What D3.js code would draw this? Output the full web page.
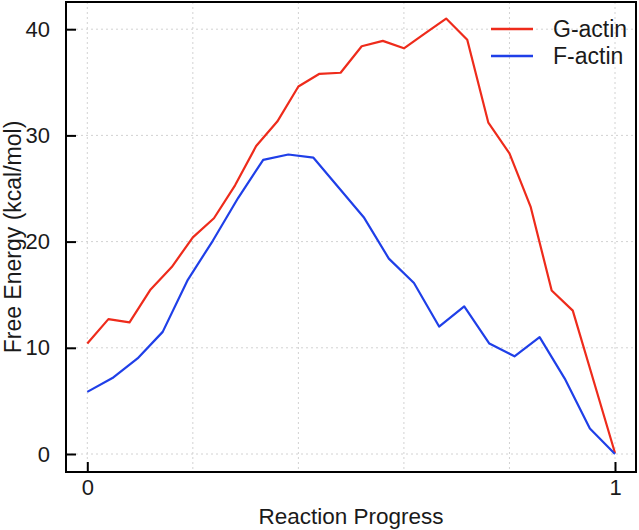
<!DOCTYPE html>
<html>
<head>
<meta charset="utf-8">
<script src="https://cdn.jsdelivr.net/npm/d3@7"></script>
<style>
  html, body { margin: 0; padding: 0; background: #fff; }
  svg { display: block; font-family: "Liberation Sans", Arial, Helvetica, sans-serif; }
</style>
</head>
<body>
<svg id="chart" width="639" height="530"></svg>
<script>
// ---- data ----
const gActin = [10.4, 12.7, 12.4, 15.5, 17.6, 20.4, 22.2, 25.3, 29.0, 31.3, 34.6, 35.8, 35.9,
                38.4, 38.9, 38.2, 39.6, 41.0, 39.0, 31.2, 28.3, 23.3, 15.4, 13.5, 6.8, 0.1];
const fActin = [5.85, 7.15, 9.0, 11.5, 16.4, 20.1, 24.1, 27.7, 28.2, 27.9, 25.1, 22.3, 18.4,
                16.1, 12.0, 13.9, 10.4, 9.2, 11.0, 7.1, 2.4, 0.0];
const seriesNames = ["G-actin", "F-actin"];
const seriesColors = ["#ee2b1b", "#1f3fe8"];
const yTicks = [0, 10, 20, 30, 40];
const xTicks = [0, 1];
const xGrid = [0, 0.2, 0.4, 0.6, 0.8, 1.0];
const xTitle = "Reaction Progress";
const yTitle = "Free Energy (kcal/mol)";

// ---- layout ----
const svg = d3.select("#chart");
const frame = { left: 66, right: 636, top: 2, bottom: 472 };
const x = d3.scaleLinear().domain([0, 1]).range([87.3, 615]);
const y = d3.scaleLinear().domain([0, 40]).range([454, 29.2]);
const textColor = "#1a1a1a";

// gridlines
const grid = svg.append("g").attr("stroke", "#d2d2d2").attr("stroke-width", 1)
  .attr("stroke-dasharray", "2,3");
grid.selectAll(".vg").data(xGrid).join("line")
  .attr("x1", d => x(d)).attr("x2", d => x(d))
  .attr("y1", frame.top).attr("y2", frame.bottom);
grid.selectAll(".hg").data(yTicks).join("line")
  .attr("x1", frame.left).attr("x2", frame.right)
  .attr("y1", d => y(d)).attr("y2", d => y(d));

// lines
const line = d3.line().x(d => x(d.x)).y(d => y(d.v));
const toPts = arr => arr.map((v, i) => ({ x: i / (arr.length - 1), v }));
[gActin, fActin].forEach((arr, i) => {
  svg.append("path").datum(toPts(arr))
    .attr("fill", "none").attr("stroke", seriesColors[i])
    .attr("stroke-width", 2.2).attr("stroke-linejoin", "round")
    .attr("d", line);
});

// axes
const yAxis = d3.axisLeft(y).tickValues(yTicks).tickSize(-10).tickPadding(16);
const gy = svg.append("g").attr("transform", `translate(${frame.left},0)`).call(yAxis);
const xAxis = d3.axisBottom(x).tickValues(xTicks).tickSize(-10).tickPadding(7).tickFormat(d3.format("d"));
const gx = svg.append("g").attr("transform", `translate(0,${frame.bottom})`).call(xAxis);
[gx, gy].forEach(g => {
  g.select(".domain").remove();
  g.selectAll(".tick line").attr("stroke", "#000").attr("stroke-width", 2);
  g.selectAll(".tick text").attr("fill", textColor).style("font-size", "22px")
    .style("font-family", "'Liberation Sans', Arial, sans-serif");
});

// frame
svg.append("rect")
  .attr("x", frame.left).attr("y", frame.top)
  .attr("width", frame.right - frame.left).attr("height", frame.bottom - frame.top)
  .attr("fill", "none").attr("stroke", "#000").attr("stroke-width", 2);

// titles
svg.append("text").attr("x", 351).attr("y", 524).attr("text-anchor", "middle")
  .attr("fill", textColor).style("font-size", "22.5px").text(xTitle);
svg.append("text").attr("transform", "translate(21,237) rotate(-90)").attr("text-anchor", "middle")
  .attr("fill", textColor).style("font-size", "23px").text(yTitle);

// legend
const leg = svg.append("g");
seriesNames.forEach((n, i) => {
  const ly = 29 + i * 27;
  leg.append("line").attr("x1", 491).attr("x2", 533).attr("y1", ly).attr("y2", ly)
    .attr("stroke", seriesColors[i]).attr("stroke-width", 2.5);
  leg.append("text").attr("x", 553).attr("y", ly + 8).attr("fill", textColor)
    .style("font-size", "23px").text(n);
});
</script>
</body>
</html>
